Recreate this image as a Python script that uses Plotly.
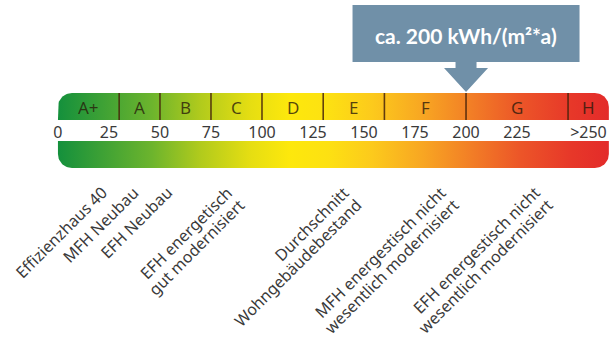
import numpy as np
import plotly.graph_objects as go

# Energy efficiency classes (kWh per m² and year)
class_labels = ["A+", "A", "B", "C", "D", "E", "F", "G", "H"]
class_edges = [0, 30, 50, 75, 100, 130, 160, 200, 250, 270]

# Scale labels below the class band
tick_values = [0, 25, 50, 75, 100, 125, 150, 175, 200, 225, 260]
tick_text = ["0", "25", "50", "75", "100", "125", "150", "175", "200", "225", ">250"]

# Typical final energy demand of building types
building_types = [
    "Effizienzhaus 40",
    "MFH Neubau",
    "EFH Neubau",
    "EFH energetisch<br>gut modernisiert",
    "Durchschnitt<br>Wohngebäudebestand",
    "MFH energestisch nicht<br>wesentlich modernisiert",
    "EFH energestisch nicht<br>wesentlich modernisiert",
]
building_values = [28, 43, 60, 89, 146, 194, 240]

highlight_value = 200
highlight_text = "ca. 200 kWh/(m²*a)"

# ---- layout constants ----
W, H = 616, 342
X_RANGE = [-28.4, 273.5]
PX_PER_UNIT = W / (X_RANGE[1] - X_RANGE[0])
BAND_TOP, BAND_BOT = 93, 120          # coloured class band
SCALE_TOP, SCALE_BOT = 141, 168       # gradient bar
RADIUS = 14
FONT = "Noto Sans"
TEXT_COLOR = "#3a3a3a"
LABEL_SIZE = 16
LINE_GAP = 18                         # distance between lines of a rotated label

gradient = [
    [0.00, "#14903c"], [0.17, "#6cb42d"], [0.26, "#b2cb1c"], [0.35, "#e6de12"],
    [0.42, "#fde80c"], [0.49, "#fde112"], [0.57, "#fcca1c"], [0.66, "#f8a722"],
    [0.75, "#f27e26"], [0.84, "#ec5528"], [0.93, "#e73829"], [1.00, "#e32b2a"],
]


def rounded_band(x0, x1, ytop, ybot, r, round_top):
    """Outline of a bar whose two top (or two bottom) corners are rounded."""
    rx = r / PX_PER_UNIT
    t = np.linspace(0, np.pi / 2, 16)
    if round_top:
        cyl = ytop + r
        left = [(x0 + rx - rx * np.cos(a), cyl - r * np.sin(a)) for a in t]
        right = [(x1 - rx + rx * np.sin(a), cyl - r * np.cos(a)) for a in t]
        pts = [(x0, ybot)] + left + right + [(x1, ybot), (x0, ybot)]
    else:
        cyb = ybot - r
        right = [(x1 - rx + rx * np.cos(a), cyb + r * np.sin(a)) for a in t]
        left = [(x0 + rx - rx * np.sin(a), cyb + r * np.cos(a)) for a in t]
        pts = [(x0, ytop), (x1, ytop)] + right + left + [(x0, ytop)]
    xs, ys = zip(*pts)
    return list(xs), list(ys)


fig = go.Figure()

for (ytop, ybot, top) in [(BAND_TOP, BAND_BOT, True), (SCALE_TOP, SCALE_BOT, False)]:
    xs, ys = rounded_band(class_edges[0], class_edges[-1], ytop, ybot, RADIUS, top)
    fig.add_trace(go.Scatter(
        x=xs, y=ys, mode="lines", line=dict(width=0), fill="toself",
        fillgradient=dict(type="horizontal", colorscale=gradient),
        hoverinfo="skip", showlegend=False,
    ))

# class dividers
for e in class_edges[1:-1]:
    fig.add_shape(type="line", xref="x", yref="y", x0=e, x1=e, y0=BAND_TOP, y1=BAND_BOT,
                  line=dict(color="rgba(70,35,10,0.85)", width=1.6))

# class letters
for lab, a, b in zip(class_labels, class_edges[:-1], class_edges[1:]):
    fig.add_annotation(x=(a + b) / 2, y=(BAND_TOP + BAND_BOT) / 2 + 1, text=lab,
                       showarrow=False, xref="x", yref="y",
                       font=dict(family=FONT, size=17, color="rgba(40,25,10,0.78)"))

# building type labels, one annotation per line so the line gap stays tight
shift = LINE_GAP / np.sqrt(2)
for name, v in zip(building_types, building_values):
    for i, line in enumerate(name.split("<br>")):
        fig.add_annotation(x=v, y=179, text=line, textangle=-45, showarrow=False,
                           xref="x", yref="y", xanchor="right", yanchor="top",
                           xshift=i * shift, yshift=-i * shift,
                           font=dict(family=FONT, size=LABEL_SIZE, color=TEXT_COLOR))

# callout box with arrow pointing at the highlighted value
fig.add_shape(
    type="path", xref="x", yref="y", xsizemode="pixel", ysizemode="pixel",
    xanchor=highlight_value, yanchor=BAND_TOP - 1,
    path=("M -22,24 L 0,0 L 22,24 L 10.5,24 L 10.5,30 L 113.5,30 L 113.5,87 "
          "L -113.5,87 L -113.5,30 L -10.5,30 L -10.5,24 Z"),
    fillcolor="#7090a8", line=dict(width=0),
)
fig.add_annotation(x=highlight_value, y=35, text=highlight_text, showarrow=False,
                   xref="x", yref="y",
                   font=dict(family="Lato", size=21, color="white", weight=700))

fig.update_layout(
    width=W, height=H, margin=dict(l=0, r=0, t=0, b=0),
    paper_bgcolor="white", plot_bgcolor="white", showlegend=False,
    xaxis=dict(range=X_RANGE, showgrid=False, zeroline=False, showline=False,
               tickmode="array", tickvals=tick_values, ticktext=tick_text, ticks="",
               anchor="free", position=1 - 121 / H,
               tickfont=dict(family=FONT, size=16, color=TEXT_COLOR)),
    yaxis=dict(range=[H, 0], visible=False),
)

fig.write_html("out.html")
